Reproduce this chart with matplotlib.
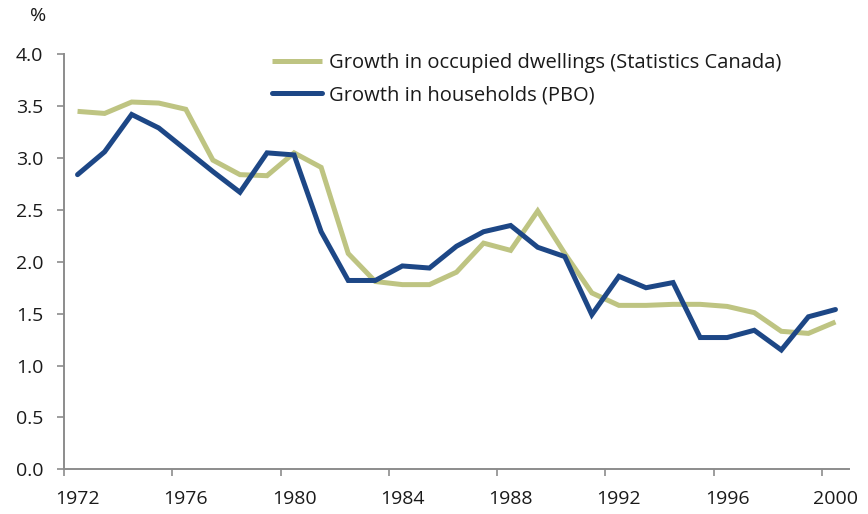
import numpy as np
import matplotlib
matplotlib.use('Agg')
from matplotlib import pyplot as plt
from matplotlib.ticker import FixedLocator, NullFormatter

plt.rcParams['font.family'] = ['Open Sans', 'DejaVu Sans']

years = list(range(1972, 2001))
dwellings = [3.45, 3.43, 3.54, 3.53, 3.47, 2.98, 2.84, 2.83, 3.05, 2.91,
             2.08, 1.81, 1.78, 1.78, 1.90, 2.18, 2.11, 2.49, 2.08, 1.70,
             1.58, 1.58, 1.59, 1.59, 1.57, 1.51, 1.33, 1.31, 1.42]
households = [2.84, 3.06, 3.42, 3.29, 3.08, 2.87, 2.67, 3.05, 3.03, 2.29,
              1.82, 1.82, 1.96, 1.94, 2.15, 2.29, 2.35, 2.14, 2.05, 1.49,
              1.86, 1.75, 1.80, 1.27, 1.27, 1.34, 1.15, 1.47, 1.54]
label_years = [1972, 1976, 1980, 1984, 1988, 1992, 1996, 2000]
yticks = [0.0, 0.5, 1.0, 1.5, 2.0, 2.5, 3.0, 3.5, 4.0]

green = '#BEC482'
blue = '#1D4786'
axis_grey = '#8C8C8C'
text_col = '#1a1a1a'

fig = plt.figure(figsize=(8.68, 5.14), dpi=100)
ax = fig.add_axes([64 / 868, 1 - 469.3 / 514, 785 / 868, 415 / 514])

ax.plot(years, dwellings, color=green, lw=3.6, solid_capstyle='butt',
        solid_joinstyle='miter', label='Growth in occupied dwellings (Statistics Canada)')
ax.plot(years, households, color=blue, lw=3.6, solid_capstyle='round',
        solid_joinstyle='miter', label='Growth in households (PBO)')

ax.set_xlim(1971.5, 2000.5)
ax.set_ylim(0, 4.0)

# category axis: tick marks between categories, labels centred on the years
ax.xaxis.set_major_locator(FixedLocator([y - 0.5 for y in label_years]))
ax.xaxis.set_major_formatter(NullFormatter())
ax.xaxis.set_minor_locator(FixedLocator(label_years))
ax.set_xticklabels([str(y) for y in label_years], minor=True)
ax.tick_params(axis='x', which='major', length=5, width=1.2, color=axis_grey, direction='out')
ax.tick_params(axis='x', which='minor', length=0, pad=15, labelsize=14, labelcolor=text_col)

ax.set_yticks(yticks)
ax.set_yticklabels(['%.1f' % v for v in yticks])
ax.tick_params(axis='y', length=5, width=1.2, color=axis_grey, direction='out',
               pad=10, labelsize=14, labelcolor=text_col)

for side in ['top', 'right']:
    ax.spines[side].set_visible(False)
for side in ['left', 'bottom']:
    ax.spines[side].set_color(axis_grey)
    ax.spines[side].set_linewidth(1.4)

fig.text(38 / 868, 1 - 16 / 514, '%', fontsize=14, color=text_col, ha='center', va='center')

ax.legend(loc='upper left', bbox_to_anchor=(272 / 868, 1 - 53 / 514), bbox_transform=fig.transFigure,
          frameon=False, fontsize=14.5, handlelength=2.5, handletextpad=0.35,
          labelspacing=0.62, borderpad=0, borderaxespad=0, labelcolor=text_col)

fig.savefig('out.png', dpi=100)
